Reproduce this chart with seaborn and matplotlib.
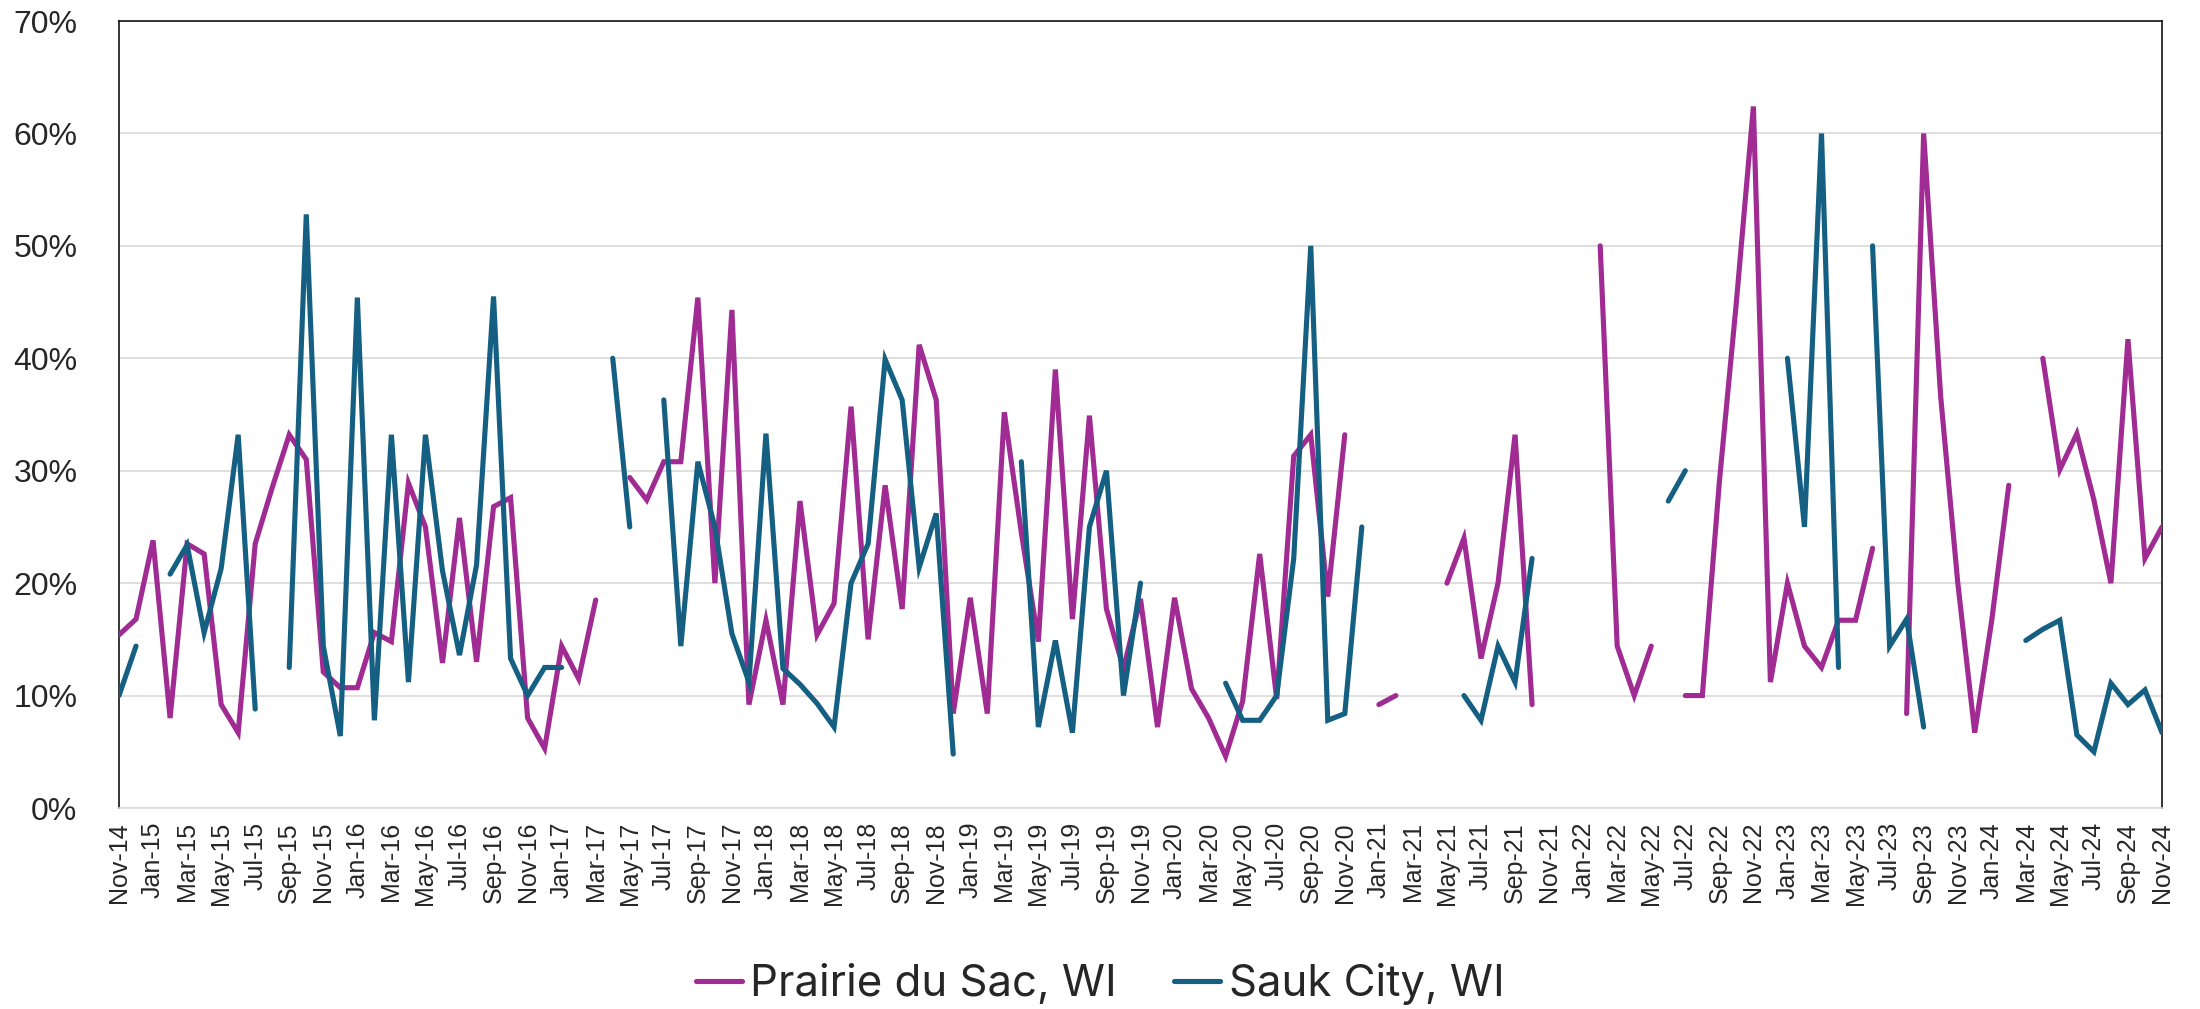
import numpy as np
import pandas as pd
import matplotlib
matplotlib.use("Agg")
import matplotlib.pyplot as plt
import seaborn as sns
from matplotlib.ticker import FuncFormatter, FixedLocator

# ---------------- data (percent, monthly Nov-14 .. Nov-24; None = no data) -------------
series_names = ["Prairie du Sac, WI", "Sauk City, WI"]
series_colors = ["#A02B93", "#156082"]

prairie = [
    15.4, 16.8, 23.8, 8.0, 23.5, 22.6, 9.2, 6.7, 23.5, 28.5,
    33.2, 31.0, 12.1, 10.7, 10.7, 15.6, 14.8, 28.9, 25.0, 12.9,
    25.8, 13.0, 26.8, 27.6, 8.0, 5.3, 14.4, 11.5, 18.5, None,
    29.4, 27.4, 30.8, 30.8, 45.4, 20.0, 44.3, 9.2, 16.7, 9.2,
    27.3, 15.4, 18.2, 35.7, 15.0, 28.7, 17.7, 41.2, 36.3, 8.4,
    18.7, 8.4, 35.2, 24.5, 14.8, 39.0, 16.8, 34.9, 17.7, 12.4,
    18.6, 7.2, 18.7, 10.6, 8.0, 4.6, 9.5, 22.6, 9.7, 31.3,
    33.2, 18.8, 33.2, None, 9.2, 10.0, None, None, 20.0, 24.0,
    13.3, 20.0, 33.2, 9.2, None, None, None, 50.0, 14.4, 10.0,
    14.4, None, 10.0, 10.0, 29.0, 45.0, 62.4, 11.2, 20.0, 14.4,
    12.5, 16.7, 16.7, 23.1, None, 8.4, 60.0, 36.6, 20.1, 6.7,
    16.7, 28.7, None, 40.0, 30.1, 33.3, 27.4, 20.0, 41.7, 22.2,
    25.0,
]

sauk = [
    10.0, 14.4, None, 20.8, 23.4, 15.6, 21.3, 33.2, 8.8, None,
    12.5, 52.8, 14.4, 6.4, 45.4, 7.8, 33.2, 11.2, 33.2, 21.1,
    13.6, 21.6, 45.5, 13.3, 10.0, 12.5, 12.5, None, None, 40.0,
    25.0, None, 36.3, 14.4, 30.8, 25.0, 15.5, 11.2, 33.3, 12.4,
    11.0, 9.3, 7.2, 20.0, 23.5, 39.9, 36.3, 21.4, 26.2, 4.8,
    None, None, None, 30.8, 7.2, 14.9, 6.7, 25.0, 30.0, 10.0,
    20.0, None, None, None, None, 11.1, 7.8, 7.8, 10.0, 22.2,
    50.0, 7.8, 8.4, 25.0, None, None, None, None, None, 10.0,
    7.8, 14.4, 11.2, 22.2, None, None, None, None, None, None,
    None, 27.3, 30.0, None, None, None, None, None, 40.0, 25.0,
    60.0, 12.5, None, 50.0, 14.4, 16.8, 7.2, None, None, None,
    None, None, 14.9, 15.9, 16.7, 6.5, 5.0, 11.1, 9.2, 10.5,
    6.7,
]

months = pd.date_range("2014-11-01", "2024-11-01", freq="MS")
month_labels = [d.strftime("%b-%y") for d in months]
y_ticks = [0, 10, 20, 30, 40, 50, 60, 70]

# ---------------- tidy frame with segment ids so gaps stay gaps ----------------
rows = []
for name, vals in zip(series_names, [prairie, sauk]):
    seg = 0
    prev_none = True
    for i, v in enumerate(vals):
        if v is None:
            prev_none = True
            continue
        if prev_none:
            seg += 1
            prev_none = False
        rows.append({"month": i, "value": v, "series": name, "segment": f"{name}-{seg}"})
df = pd.DataFrame(rows)

# ---------------- figure ----------------
sns.set_theme(style="white")
plt.rcParams["font.family"] = ["Liberation Sans", "DejaVu Sans"]

W, H = 2200, 1009
fig = plt.figure(figsize=(W / 100, H / 100), dpi=100)
ax = fig.add_axes([119 / W, 1 - 808 / H, (2162 - 119) / W, (808 - 21) / H])

# gridlines
for t in y_ticks:
    ax.axhline(t, color="#D9D9D9", lw=1.2, zorder=0)

LW = 3.7
sns.lineplot(
    data=df, x="month", y="value", hue="series", units="segment",
    estimator=None, palette=dict(zip(series_names, series_colors)),
    hue_order=series_names, linewidth=LW, sort=False, ax=ax, legend=True,
    solid_capstyle="round", solid_joinstyle="miter", zorder=3,
)

ax.set_xlim(0, len(month_labels) - 1)
ax.set_ylim(0, 70)
ax.yaxis.set_major_locator(FixedLocator(y_ticks))
ax.yaxis.set_major_formatter(FuncFormatter(lambda v, p: f"{v:.0f}%"))
ax.set_xticks(range(0, len(month_labels), 2))
ax.set_xticklabels(month_labels[::2], rotation=90, ha="center", va="top",
                   fontsize=18, fontfamily=["Liberation Sans", "DejaVu Sans"])
ax.tick_params(axis="y", length=0, pad=30, labelsize=23)
ax.tick_params(axis="x", length=0, pad=10)
ax.set_xlabel("")
ax.set_ylabel("")
ax.grid(False)

for s in ["left", "top", "right"]:
    ax.spines[s].set_color("black")
    ax.spines[s].set_linewidth(1.1)
ax.spines["bottom"].set_color("#D9D9D9")
ax.spines["bottom"].set_linewidth(1.2)

handles, labels = ax.get_legend_handles_labels()
ax.get_legend().remove()
leg = fig.legend(
    handles, labels, loc="center", bbox_to_anchor=(0.5, 1 - 984 / H),
    ncol=2, frameon=False, handlelength=1.05,
    handletextpad=0.2, columnspacing=1.3,
    prop={"family": ["Inter", "DejaVu Sans"], "size": 31.5},
)
for lh in leg.get_lines():
    lh.set_linewidth(LW)
    lh.set_solid_capstyle("round")

fig.savefig("out.png", dpi=100)
